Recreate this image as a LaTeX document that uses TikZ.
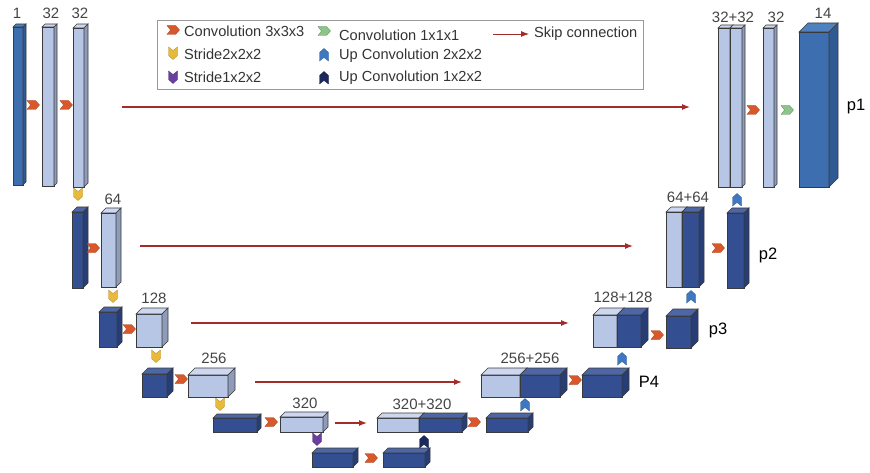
\documentclass[tikz,border=0pt]{standalone}
\usepackage{fontspec}
\setmainfont{Liberation Sans}
\usetikzlibrary{arrows.meta,positioning}

\definecolor{mdfront}{HTML}{3D6EAF}
\definecolor{mdtop}{HTML}{4F80C0}
\definecolor{mdside}{HTML}{2F5A93}
\definecolor{ltfront}{HTML}{B8C6E6}
\definecolor{lttop}{HTML}{CDD7EF}
\definecolor{ltside}{HTML}{8E9BB9}
\definecolor{dkfront}{HTML}{344F91}
\definecolor{dktop}{HTML}{4D66A5}
\definecolor{dkside}{HTML}{273D75}
\definecolor{edgegray}{HTML}{3A3A3A}
\definecolor{lblgray}{HTML}{444444}
\definecolor{keygray}{HTML}{333333}
\definecolor{skipred}{HTML}{A52A2A}
\definecolor{convorange}{HTML}{D9582B}
\definecolor{convgreen}{HTML}{8CC48A}
\definecolor{strideyellow}{HTML}{E8B93A}
\definecolor{stridepurple}{HTML}{6A3FA0}
\definecolor{upblue}{HTML}{3F78C0}
\definecolor{upnavy}{HTML}{1B2A5A}

% block: name, style, x, y, width, height, depth
\newcommand{\blk}[7]{%
  \node[#2, anchor=north west, minimum width=#5pt, minimum height=#6pt] (#1) at (#3,#4) {};
  \draw[#2 top] (#1.north west) -- ++(#7,-#7) -- ++(#5,0) -- (#1.north east) -- cycle;
  \draw[#2 side] (#1.north east) -- ++(#7,-#7) -- ++(0,#6) -- (#1.south east) -- cycle;
}
% chevron: x, y, angle, style
\newcommand{\chev}[4]{%
  \draw[#4, shift={(#1,#2)}, rotate=#3] (-6,-4.5) -- (2.5,-4.5) -- (6.5,0) -- (2.5,4.5) -- (-6,4.5) -- (-2.5,0) -- cycle;
}

\begin{document}
\begin{tikzpicture}[
  x=1pt, y=-1pt,
  cube/.style={draw=edgegray, line width=0.6pt, inner sep=0pt, outer sep=0pt},
  lt/.style={cube, fill=ltfront}, lt top/.style={cube, fill=lttop}, lt side/.style={cube, fill=ltside},
  dk/.style={cube, fill=dkfront}, dk top/.style={cube, fill=dktop}, dk side/.style={cube, fill=dkside},
  md/.style={cube, fill=mdfront}, md top/.style={cube, fill=mdtop}, md side/.style={cube, fill=mdside},
  lbl/.style={font=\fontsize{15}{17}\selectfont, text=lblgray, inner sep=0pt},
  plbl/.style={font=\fontsize{16.5}{19}\selectfont, text=black, inner sep=0pt},
  key/.style={font=\fontsize{14.6}{17}\selectfont, text=keygray, anchor=west, inner sep=0pt},
  skip/.style={-{Latex[length=8pt, width=6pt]}, draw=skipred, line width=1.1pt},
  conv/.style={fill=convorange, draw=convorange!75!black, line width=0.3pt},
  conv1/.style={fill=convgreen, draw=convgreen!70!black, line width=0.3pt},
  stride/.style={fill=strideyellow, draw=strideyellow!75!black, line width=0.3pt},
  stridez/.style={fill=stridepurple, draw=stridepurple!75!black, line width=0.3pt},
  upconv/.style={fill=upblue, draw=upblue!75!black, line width=0.3pt},
  upconvz/.style={fill=upnavy, draw=upnavy!75!black, line width=0.3pt}
]
\useasboundingbox (0,0) rectangle (870,473);

% legend
\node[draw=black!40, line width=0.6pt, anchor=north west, minimum width=486pt, minimum height=69pt, inner sep=0pt] (legend) at (157,20) {};
\chev{173}{30}{0}{conv}
\node[key] (k1) at (184,31) {Convolution 3x3x3};
\chev{173}{53}{-90}{stride}
\node[key] (k2) at (184,54) {Stride2x2x2};
\chev{173}{77}{-90}{stridez}
\node[key] (k3) at (184,77) {Stride1x2x2};
\chev{324}{31}{0}{conv1}
\node[key] (k4) at (339,35) {Convolution 1x1x1};
\chev{324}{55}{90}{upconv}
\node[key] (k5) at (339,56) {Up Convolution 2x2x2};
\chev{324}{78}{90}{upconvz}
\node[key] (k6) at (339,78) {Up Convolution 1x2x2};
\coordinate (ks) at (493,34);
\coordinate (ke) at (529,34);
\draw[skip, line width=0.9pt] (ks) -- (ke);
\node[key] (k7) at (534,34) {Skip connection};

% encoder
\blk{in1}{md}{13}{27}{10}{158}{3}
\blk{e1a}{lt}{42}{27}{12}{159}{3}
\blk{e1b}{lt}{73}{28}{11}{159}{4}
\blk{e2a}{dk}{72}{212}{11}{76}{5}
\blk{e2b}{lt}{101}{213}{15}{74}{5}
\blk{e3a}{dk}{99}{312}{18}{35}{5}
\blk{e3b}{lt}{136}{314}{26}{33}{6}
\blk{e4a}{dk}{142}{374}{25}{23}{6}
\blk{e4b}{lt}{188}{375}{40}{22}{7}
\blk{e5a}{dk}{213}{418}{44}{14}{4}
\blk{e5b}{lt}{280}{417}{43}{15}{5}
% bottleneck
\blk{b6a}{dk}{312}{453}{41}{14}{5}
\blk{b6b}{dk}{383}{453}{42}{14}{5}
% decoder
\blk{d5a}{lt}{377}{418}{42}{14}{5}
\blk{d5b}{dk}{419}{418}{43}{14}{5}
\blk{d5c}{dk}{486}{418}{42}{14}{5}
\blk{d4a}{lt}{481}{375}{39}{22}{7}
\blk{d4b}{dk}{520}{375}{40}{22}{7}
\blk{d4c}{dk}{582}{375}{40}{22}{7}
\blk{d3a}{lt}{593}{315}{24}{32}{7}
\blk{d3b}{dk}{617}{315}{24}{32}{7}
\blk{d3c}{dk}{666}{316}{25}{32}{7}
\blk{d2a}{lt}{666}{212}{16}{75}{5}
\blk{d2b}{dk}{682}{212}{17}{75}{5}
\blk{d2c}{dk}{727}{213}{17}{75}{5}
\blk{d1a}{lt}{718}{28}{12}{159}{3}
\blk{d1b}{lt}{730}{28}{12}{159}{3}
\blk{d1c}{lt}{763}{28}{11}{159}{3}
\blk{out}{md}{799}{32}{30}{155}{9}

% sizes
\node[lbl] (n1) at (17,13) {1};
\node[lbl] (n2) at (51,13) {32};
\node[lbl] (n3) at (80,13) {32};
\node[lbl] (n4) at (113,199) {64};
\node[lbl] (n5) at (154,298) {128};
\node[lbl] (n6) at (214,358) {256};
\node[lbl] (n7) at (305,403) {320};
\node[lbl] (n8) at (422,404) {320+320};
\node[lbl] (n9) at (530,358) {256+256};
\node[lbl] (n10) at (623,297) {128+128};
\node[lbl] (n11) at (688,197) {64+64};
\node[lbl] (n12) at (733,17) {32+32};
\node[lbl] (n13) at (776,17) {32};
\node[lbl] (n14) at (823,13) {14};
\node[plbl] (p1) at (856,107) {p1};
\node[plbl] (p2) at (768,255) {p2};
\node[plbl] (p3) at (718,330) {p3};
\node[plbl] (p4) at (649,382) {P4};

% operations
\chev{33}{105}{0}{conv}
\chev{66}{105}{0}{conv}
\chev{93}{248}{0}{conv}
\chev{129}{329}{0}{conv}
\chev{181}{379}{0}{conv}
\chev{271}{422}{0}{conv}
\chev{371}{458}{0}{conv}
\chev{474}{422}{0}{conv}
\chev{575}{380}{0}{conv}
\chev{657}{335}{0}{conv}
\chev{718}{248}{0}{conv}
\chev{753}{110}{0}{conv}
\chev{787}{110}{0}{conv1}
\chev{78}{194}{-90}{stride}
\chev{113}{296}{-90}{stride}
\chev{156}{356}{-90}{stride}
\chev{220}{404}{-90}{stride}
\chev{317}{439}{-90}{stridez}
\chev{424}{442}{90}{upconvz}
\chev{525}{405}{90}{upconv}
\chev{622}{359}{90}{upconv}
\chev{691}{297}{90}{upconv}
\chev{737}{200}{90}{upconv}

% skip connections
\coordinate (s1a) at (122,107);
\coordinate (s1b) at (690,107);
\coordinate (s2a) at (140,246);
\coordinate (s2b) at (633,246);
\coordinate (s3a) at (191,323);
\coordinate (s3b) at (569,323);
\coordinate (s4a) at (255,382);
\coordinate (s4b) at (462,382);
\coordinate (s5a) at (335,423);
\coordinate (s5b) at (367,423);
\draw[skip] (s1a) -- (s1b);
\draw[skip] (s2a) -- (s2b);
\draw[skip] (s3a) -- (s3b);
\draw[skip] (s4a) -- (s4b);
\draw[skip] (s5a) -- (s5b);
\end{tikzpicture}
\end{document}
